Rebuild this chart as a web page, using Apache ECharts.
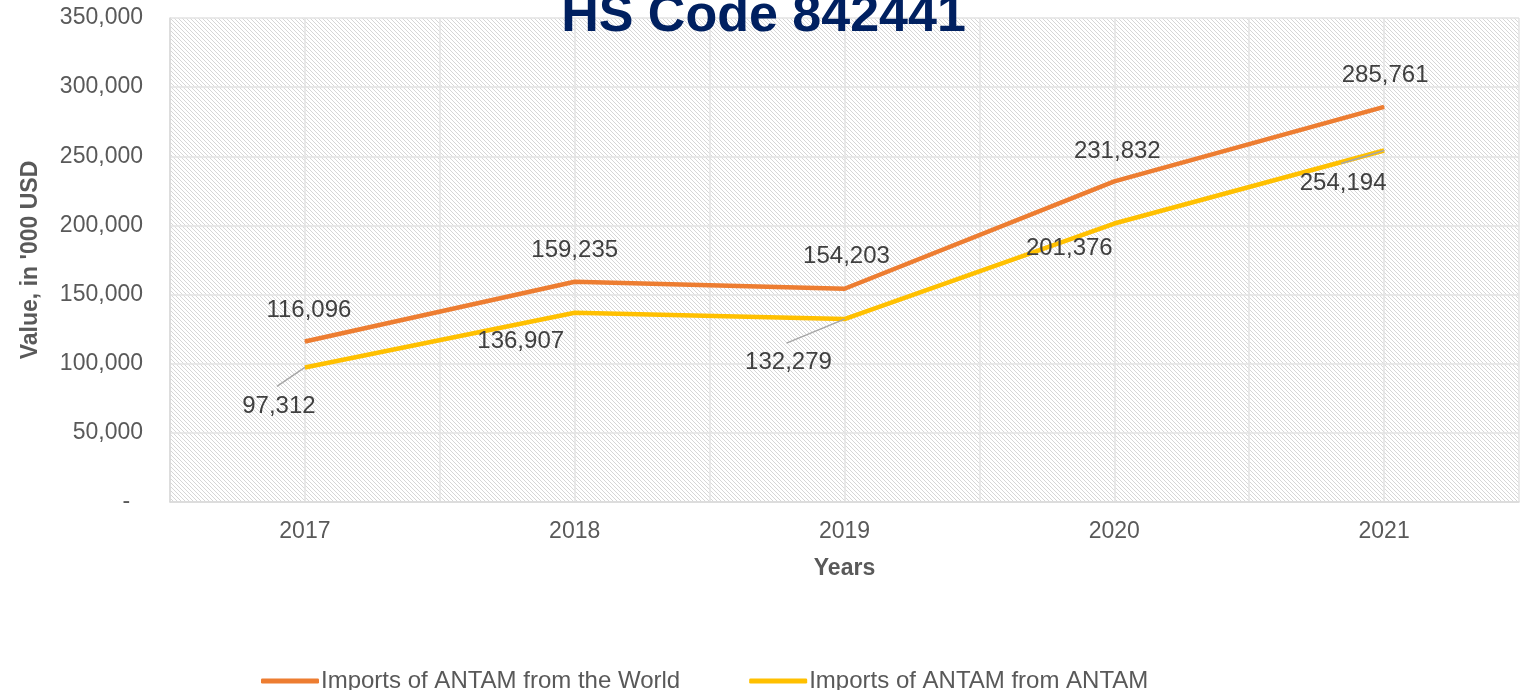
<!DOCTYPE html>
<html>
<head>
<meta charset="utf-8">
<script src="https://cdn.jsdelivr.net/npm/echarts@6/dist/echarts.min.js"></script>
<style>
html,body{margin:0;padding:0;background:#fff;}
#chart{width:1527px;height:690px;}
</style>
</head>
<body>
<div id="chart"></div>
<script>
const years = ['2017', '2018', '2019', '2020', '2021'];
const worldImports = [116096, 159235, 154203, 231832, 285761];
const antamImports = [97312, 136907, 132279, 201376, 254194];
const seriesNames = ['Imports of ANTAM from the World', 'Imports of ANTAM from ANTAM'];
const titleText = 'HS Code 842441';

// label placement (styling only): offsets of the label centre from the point
const worldLabelOffsets = [[4, 0], [0, 0], [2, -1], [3, 1], [1, 0]];
const antamLabelCentre = [[-26, 38], [-54, 28], [-56, 43], [-45, 24], [-41, 32]];
const antamLeader = [true, false, true, false, true];

const FONT = '"Liberation Sans", Arial, sans-serif';
const LABEL_SIZE = 24;

// hatch pattern
const pc = document.createElement('canvas');
pc.width = 4; pc.height = 4;
const pctx = pc.getContext('2d');
pctx.fillStyle = '#ffffff';
pctx.fillRect(0, 0, 4, 4);
pctx.fillStyle = '#d6d6d6';
for (let i = 0; i < 4; i++) pctx.fillRect(i, i, 1, 1);

const chart = echarts.init(document.getElementById('chart'));

const fmt = v => v.toLocaleString('en-US');
const BOTTOM_DIST = 5;

chart.setOption({
  backgroundColor: '#ffffff',
  animation: false,
  title: {
    text: titleText,
    left: 'center',
    top: -14,
    textStyle: { fontFamily: FONT, fontSize: 52, fontWeight: 'bold', color: '#002060' }
  },
  grid: {
    left: 170, right: 8, top: 18, bottom: 188,
    show: true,
    backgroundColor: { image: pc, repeat: 'repeat' },
    borderWidth: 0
  },
  legend: {
    left: 256,
    top: 664,
    itemWidth: 58,
    itemHeight: 5,
    itemGap: 69,
    icon: 'roundRect',
    textStyle: { fontFamily: FONT, fontSize: 24, color: '#595959', padding: [0, 0, 0, -3] },
    data: seriesNames
  },
  xAxis: [{
    type: 'category',
    data: years,
    boundaryGap: true,
    name: 'Years',
    nameLocation: 'middle',
    nameGap: 55,
    nameTextStyle: { fontFamily: FONT, fontSize: 23, fontWeight: 'bold', color: '#595959' },
    axisLine: { show: true, lineStyle: { color: '#d9d9d9', width: 1.5 } },
    axisTick: { show: false },
    axisLabel: { fontFamily: FONT, fontSize: 23, color: '#595959', margin: 18 },
    splitLine: { show: false }
  }, {
    type: 'category',
    data: ['', '', '', '', '', '', '', '', '', ''],
    boundaryGap: true,
    position: 'bottom',
    axisLine: { show: false },
    axisTick: { show: false },
    axisLabel: { show: false },
    splitLine: { show: true, lineStyle: { color: '#e3e3e3', width: 1.5 } }
  }],
  yAxis: {
    type: 'value',
    min: 0, max: 350000, interval: 50000,
    name: "Value, in '000 USD",
    nameLocation: 'middle',
    nameGap: 128,
    nameTextStyle: { fontFamily: FONT, fontSize: 23, fontWeight: 'bold', color: '#595959' },
    axisLine: { show: true, lineStyle: { color: '#d9d9d9', width: 1.5 } },
    axisTick: { show: false },
    axisLabel: {
      fontFamily: FONT, fontSize: 23, color: '#595959', margin: 27,
      formatter: v => v === 0 ? '-  ' : fmt(v)
    },
    splitLine: { show: true, lineStyle: { color: '#e3e3e3', width: 1.5 } }
  },
  series: [{
    name: seriesNames[0],
    type: 'line',
    xAxisIndex: 0,
    data: worldImports.map((v, i) => ({ value: v, label: { offset: worldLabelOffsets[i] } })),
    symbol: 'circle',
    symbolSize: 1,
    showSymbol: true,
    lineStyle: { color: '#ED7D31', width: 4.5 },
    itemStyle: { color: '#ED7D31' },
    z: 3,
    label: {
      show: true, position: 'top', distance: 19,
      fontFamily: FONT, fontSize: LABEL_SIZE, color: '#404040',
      formatter: p => fmt(p.value)
    }
  }, {
    name: seriesNames[1],
    type: 'line',
    xAxisIndex: 0,
    data: antamImports.map((v, i) => ({
      value: v,
      label: { offset: [antamLabelCentre[i][0], antamLabelCentre[i][1] - BOTTOM_DIST - LABEL_SIZE / 2] }
    })),
    symbol: 'circle',
    symbolSize: 1,
    showSymbol: true,
    lineStyle: { color: '#FFC000', width: 4.5 },
    itemStyle: { color: '#FFC000' },
    z: 4,
    label: {
      show: true, position: 'bottom', distance: BOTTOM_DIST,
      fontFamily: FONT, fontSize: LABEL_SIZE, color: '#404040',
      formatter: p => fmt(p.value)
    }
  }]
});

// leader lines from point to the label (through the library's scales)
const leaders = [];
antamImports.forEach((v, i) => {
  if (!antamLeader[i]) return;
  const p = chart.convertToPixel({ seriesIndex: 1 }, [i, v]);
  const c = antamLabelCentre[i];
  leaders.push({
    type: 'line',
    z: 10,
    shape: { x1: p[0], y1: p[1], x2: p[0] + c[0] - 2, y2: p[1] + c[1] - 19 },
    style: { stroke: '#a6a6a6', lineWidth: 1.5 }
  });
});
chart.setOption({ graphic: leaders });
</script>
</body>
</html>
